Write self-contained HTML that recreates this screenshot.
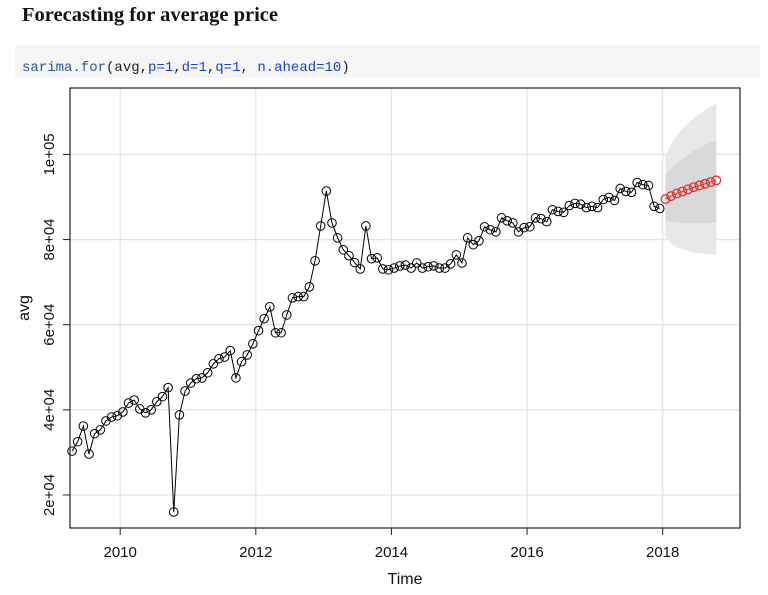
<!DOCTYPE html>
<html><head><meta charset="utf-8"><style>
body{margin:0;background:#fff;width:768px;height:595px;overflow:hidden;position:relative}
#title{position:absolute;left:22px;top:4px;font:bold 20.5px "Liberation Serif",serif;color:#111}
#code{position:absolute;left:15px;top:45px;width:745px;height:33px;background:#f6f6f6}
#code span.t{position:absolute;left:7px;top:15px;font:14px "Liberation Mono",monospace;color:#222;white-space:pre}
.f{color:#2d5595}.a{color:#1c3fce}
svg{position:absolute;left:0;top:0}
</style></head><body>
<div id="title">Forecasting for average price</div>
<div id="code"><span class="t"><span class="f">sarima.for</span>(avg,<span class="a">p=1</span>,<span class="a">d=1</span>,<span class="a">q=1</span>, <span class="a">n.ahead=10</span>)</span></div>
<svg id="chart" width="768" height="595"></svg>
<script>
const startYear = 2009.29;
const avgValues = [30.3,32.5,36.2,29.6,34.4,35.3,37.4,38.3,38.6,39.5,41.6,42.3,40.2,39.3,40.0,41.9,43.1,45.2,16.0,38.8,44.4,46.3,47.3,47.5,48.7,50.8,52.0,52.4,53.9,47.5,51.3,52.9,55.5,58.6,61.4,64.2,58.1,58.1,62.3,66.3,66.6,
66.6,68.9,75.0,83.2,91.4,83.9,80.4,77.6,76.2,74.6,73.1,83.2,75.5,75.7,73.1,72.9,
73.3,73.8,74.0,73.3,74.5,73.3,73.6,73.8,73.3,73.3,74.3,76.4,74.5,80.4,78.8,79.7,
83.0,82.3,81.8,85.1,84.4,83.9,81.8,82.8,83.0,85.1,84.9,84.2,87.0,86.6,86.4,88.0,88.5,88.3,87.5,87.8,87.5,89.4,89.9,89.2,92.0,91.3,91.1,93.4,92.9,92.7,87.8,87.3];
const forecastValues = [89.5,90.2,90.8,91.3,91.8,92.3,92.7,93.1,93.5,93.9];
const outerUpper = [99.5,102.5,104.5,106.0,107.3,108.5,109.5,110.4,111.2,112.0];
const innerUpper = [95.0,96.8,98.0,99.0,99.9,100.8,101.6,102.3,102.9,103.3];
const innerLower = [84.5,84.2,84.0,83.9,83.9,83.9,83.9,83.9,83.9,83.9];
const outerLower = [80.6,79.0,78.2,77.7,77.3,77.0,76.8,76.6,76.5,76.4];
const xTicks = [2010,2012,2014,2016,2018];
const yTicks = [20,40,60,80,100];
const yTickLabels = ["2e+04","4e+04","6e+04","8e+04","1e+05"];

const L=70,R=740,T=88,B=528;
const x0=2009.26,x1=2019.14,y0=12.24,y1=115.6;
const X=t=>L+(t-x0)/(x1-x0)*(R-L);
const Y=v=>B-(v-y0)/(y1-y0)*(B-T);
const svg=document.getElementById('chart');
const NS='http://www.w3.org/2000/svg';
function mk(tag,attrs,parent){const e=document.createElementNS(NS,tag);for(const k in attrs)e.setAttribute(k,attrs[k]);(parent||svg).appendChild(e);return e;}
xTicks.forEach(t=>{const g=mk('line',{x1:X(t),x2:X(t),y1:T,y2:B,stroke:'#e4e4e4','stroke-width':1.3});

});
yTicks.forEach(v=>{const g=mk('line',{x1:L,x2:R,y1:Y(v),y2:Y(v),stroke:'#e4e4e4','stroke-width':1.3});

});
const ft=forecastValues.map((_,i)=>startYear+(avgValues.length+i)/12);
function band(up,lo,fill,name){
 let d='M'+X(ft[0])+','+Y(up[0]);
 up.forEach((v,i)=>d+=' L'+X(ft[i])+','+Y(v));
 for(let i=lo.length-1;i>=0;i--)d+=' L'+X(ft[i])+','+Y(lo[i]);
 const p=mk('path',{d:d+'Z',fill:fill,stroke:'none'});
 
 
}
band(outerUpper,outerLower,'#e8e8e8','outer-prediction-band');
band(innerUpper,innerLower,'#d9d9d9','inner-prediction-band');
const pts=avgValues.map((v,i)=>X(startYear+i/12)+','+Y(v)).join(' ');
const pl=mk('polyline',{points:pts,fill:'none',stroke:'#000','stroke-width':1});


avgValues.forEach((v,i)=>{const c=mk('circle',{cx:X(startYear+i/12),cy:Y(v),r:4.3,fill:'none',stroke:'#000','stroke-width':1});

});
const fl=mk('polyline',{points:forecastValues.map((v,i)=>X(ft[i])+','+Y(v)).join(' '),fill:'none',stroke:'#e23030','stroke-width':1});


forecastValues.forEach((v,i)=>{const c=mk('circle',{cx:X(ft[i]),cy:Y(v),r:4.3,fill:'none',stroke:'#e23030','stroke-width':1.3});

});
const bx=mk('rect',{x:L,y:T,width:R-L,height:B-T,fill:'none',stroke:'#222','stroke-width':1.2});


xTicks.forEach(t=>{const l=mk('line',{x1:X(t),x2:X(t),y1:B,y2:B+7,stroke:'#222'});


const tx=mk('text',{x:X(t),y:B+29,'text-anchor':'middle','font-family':'Liberation Sans, sans-serif','font-size':15,fill:'#111'});
tx.textContent=t;

});
yTicks.forEach((v,i)=>{const l=mk('line',{x1:L-7,x2:L,y1:Y(v),y2:Y(v),stroke:'#222'});


const tx=mk('text',{x:54,y:Y(v),'text-anchor':'middle','font-family':'Liberation Sans, sans-serif','font-size':15,fill:'#111',transform:`rotate(-90 54 ${Y(v)})`});
tx.textContent=yTickLabels[i];

});
const xt=mk('text',{x:(L+R)/2,y:584,'text-anchor':'middle','font-family':'Liberation Sans, sans-serif','font-size':16,fill:'#111'});
xt.textContent='Time';


const yt=mk('text',{x:29,y:(T+B)/2,'text-anchor':'middle','font-family':'Liberation Sans, sans-serif','font-size':16,fill:'#111',transform:`rotate(-90 29 ${(T+B)/2})`});
yt.textContent='avg';


</script>
</body></html>
